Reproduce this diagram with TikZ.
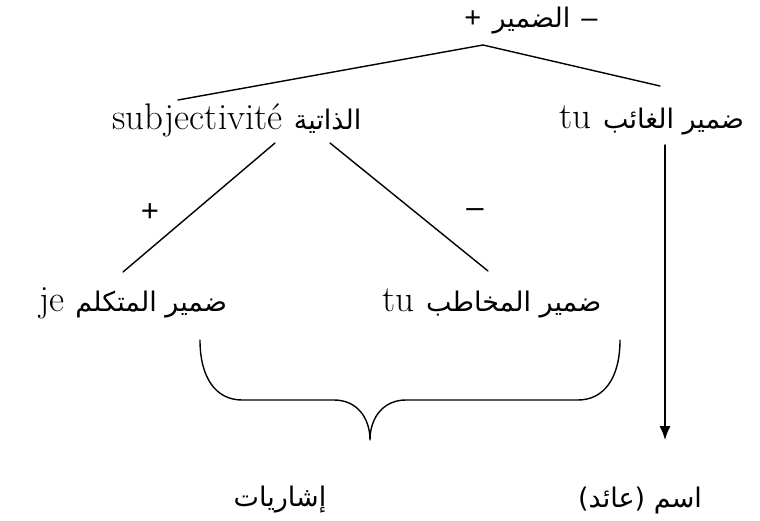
\documentclass[tikz,border=0pt]{standalone}
\usepackage{fontspec}
\setmainfont{Latin Modern Roman}
\newfontfamily\arabicfont[Script=Arabic]{DejaVu Sans}
\newfontfamily\signfont{Liberation Sans}
\TeXXeTstate=1
\usetikzlibrary{arrows.meta}

\newcommand{\ar}[1]{{\arabicfont\fontsize{27}{31}\selectfont\beginR #1\endR}}

\begin{document}
\begin{tikzpicture}[x=1pt, y=-1pt, line width=1.4pt, line cap=round, line join=round,
    lbl/.style={anchor=center, inner sep=0pt, font=\fontsize{37}{42}\selectfont},
    sgn/.style={anchor=center, inner sep=0pt, font=\signfont\fontsize{31}{34}\selectfont}]

  %% ════ 白底，钉死画布 ════
  \fill[white] (0,0) rectangle (760,521);

  %% ════ 节点 ════
  \node[lbl] (top) at (531,21) {{\signfont\fontsize{29}{32}\selectfont +} \ar{الضمير} {\signfont\fontsize{29}{32}\selectfont –}};
  \node[lbl] (subj) at (237,120) {subjectivité \ar{الذاتية}};
  \node[lbl] (ghaib) at (652,120) {tu \ar{ضمير الغائب}};
  \node[lbl] (mutak) at (133,303) {je \ar{ضمير المتكلم}};
  \node[lbl] (mukha) at (492,303) {tu \ar{ضمير المخاطب}};
  \node[lbl] (ishar) at (280,500) {\ar{إشاريات}};
  \node[lbl] (ism) at (640,500) {\ar{اسم (عائد)}};

  %% ════ 连线（相对节点中心，单位 px，y 向下）════
  \draw ([shift={(-48,24)}]top.center) -- ([shift={(-59,-20)}]subj.center);
  \draw ([shift={(-48,24)}]top.center) -- ([shift={(8,-34)}]ghaib.center);
  \draw ([shift={(38,23)}]subj.center) -- ([shift={(-10,-31)}]mutak.center);
  \draw ([shift={(93,23)}]subj.center) -- ([shift={(-4,-32)}]mukha.center);
  \draw[-{Latex[length=14pt, width=11pt]}] ([shift={(13,25)}]ghaib.center) -- ([shift={(25,-60)}]ism.center);

  %% ════ 正负号 ════
  \node[sgn] (plus) at (150,213) {+};
  \node[sgn] (minus) at (475,213) {–};

  %% ════ 大括号 ════
  \draw (200,340) .. controls (200,378) and (216,400) .. (242,400) -- (334,400)
        .. controls (357,400) and (370,418) .. (370,440)
        .. controls (370,418) and (383,400) .. (406,400) -- (578,400)
        .. controls (604,400) and (620,378) .. (620,340);
\end{tikzpicture}
\end{document}
